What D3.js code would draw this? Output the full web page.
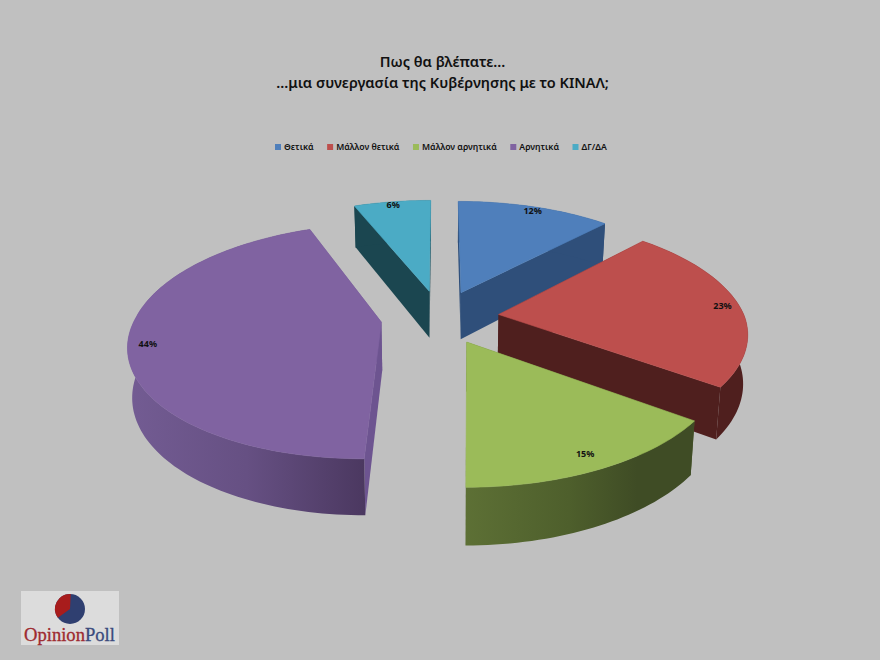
<!DOCTYPE html>
<html><head><meta charset="utf-8">
<script src="https://cdn.jsdelivr.net/npm/d3@7"></script>
<style>html,body{margin:0;padding:0;background:#c0c0c0}svg{display:block}text{font-family:"Noto Sans","Open Sans",sans-serif}</style>
</head><body><svg id="c" width="880" height="660"></svg>
<script>
const titleLines = ["Πως θα βλέπατε...", "...μια συνεργασία της Κυβέρνησης με το ΚΙΝΑΛ;"];
const categories = ["Θετικά", "Μάλλον θετικά", "Μάλλον αρνητικά", "Αρνητικά", "ΔΓ/ΔΑ"];
const values = [12, 23, 15, 44, 6];
const topColors = ["#4f7fbb", "#bd4f4d", "#9bbb59", "#8063a1", "#4babc5"];
const wallColors = ["#2f4f7a", "#4f1f1e", "#4a5a2a", "#5e4a7c", "#1b4650"];

const W = 880, H = 660;
const svg = d3.select("#c");
svg.append("rect").attr("width", W).attr("height", H).attr("fill", "#c0c0c0");
const defs = svg.append("defs");

// perspective projection of the pie's plane
const cx = 440, cy = 317, Rx = 246, Ry = 113, k = 0.16, shear = 0.02, explode = 0.24;
const D = 48, botX = 0.985, botY = 1.06;
const sx = (u, v) => u + shear * Math.min(v, 0);
const top3 = (u, v) => { const w = 1 + k * v; return [cx + Rx * sx(u, v) / w, cy - Ry * v / w]; };
const bot3 = (u, v) => { const w = 1 + k * v; return [cx + botX * Rx * sx(u, v) / w, cy + D - botY * Ry * v / w]; };

const arcs = d3.pie().sort(null)(values);
const line = d3.line();

const gradStops = {
  2: [["0%", "#5d7035"], ["45%", "#4e5f2c"], ["75%", "#3f4c25"], ["100%", "#3f4c25"]],
  3: [["0%", "#735c93"], ["50%", "#665083"], ["100%", "#4b3860"]]
};
Object.entries(gradStops).forEach(([i, stops]) => {
  const g = defs.append("linearGradient").attr("id", "wall" + i)
    .attr("x1", 0).attr("x2", 1).attr("y1", 0).attr("y2", 0);
  stops.forEach(s => g.append("stop").attr("offset", s[0]).attr("stop-color", s[1]));
});

const pieG = svg.append("g");
arcs.forEach((a, i) => {
  const mid = (a.startAngle + a.endAngle) / 2;
  const ou = explode * Math.sin(mid), ov = explode * Math.cos(mid);
  const P = (ang, r) => [ou + r * Math.sin(ang), ov + r * Math.cos(ang)];
  const n = Math.max(8, Math.round((a.endAngle - a.startAngle) * 40));
  const angles = d3.range(n + 1).map(j => a.startAngle + (a.endAngle - a.startAngle) * j / n);
  const rimTop = angles.map(t => top3(...P(t, 1)));
  const rimBot = angles.map(t => bot3(...P(t, 1)));
  const apexT = top3(ou, ov), apexB = bot3(ou, ov);
  const g = pieG.append("g");
  const wall = wallColors[i];
  // radial walls
  [[rimTop[0], rimBot[0]], [rimTop[n], rimBot[n]]].forEach(([t, b]) => {
    g.append("path").attr("d", line([apexT, t, b, apexB]) + "Z")
      .attr("fill", i === 3 ? "#6d5490" : wall);
  });
  // outer wall
  g.append("path").attr("d", line(rimTop.concat(rimBot.slice().reverse())) + "Z")
    .attr("fill", gradStops[i] ? `url(#wall${i})` : wall);
  // top face
  g.append("path").attr("d", line([apexT].concat(rimTop)) + "Z").attr("fill", topColors[i])
    .attr("stroke", topColors[i]).attr("stroke-width", 0.6);
});

// percent labels
arcs.forEach((a, i) => {
  const mid = (a.startAngle + a.endAngle) / 2;
  const ou = explode * Math.sin(mid), ov = explode * Math.cos(mid);
  const r = 0.93 + 0.04 * Math.cos(mid);
  const [x, y] = top3(ou + r * Math.sin(mid), ov + r * Math.cos(mid));
  svg.append("text").attr("x", x).attr("y", y + 1).attr("dy", "0.35em").attr("text-anchor", "middle")
    .attr("font-size", 9).attr("font-weight", 700).attr("fill", "#111").text(values[i] + "%");
});

// title
svg.append("g").selectAll("text").data(titleLines).join("text")
  .attr("x", 442.5).attr("y", (d, i) => 67 + i * 21).attr("text-anchor", "middle")
  .attr("font-size", 14.5).attr("font-weight", 600).attr("fill", "#111").text(d => d);

// legend
let legendCursor = 275;
categories.forEach((d, i) => {
  const g = svg.append("g").attr("transform", `translate(${legendCursor},147)`);
  g.append("rect").attr("x", 0).attr("y", -3).attr("width", 6).attr("height", 6).attr("fill", topColors[i]);
  const t = g.append("text").attr("x", 9).attr("dy", "0.35em").attr("font-size", 8.7).attr("font-weight", 600)
    .attr("fill", "#111").text(d);
  legendCursor += 9 + t.node().getComputedTextLength() + 13.5;
});

// logo
const logo = svg.append("g");
logo.append("rect").attr("x", 21).attr("y", 591).attr("width", 98).attr("height", 54).attr("fill", "#dcdcdc");
logo.append("circle").attr("cx", 70).attr("cy", 609).attr("r", 15).attr("fill", "#2f3f70");
logo.append("path").attr("transform", "translate(70,609)")
  .attr("d", d3.arc().innerRadius(0).outerRadius(15).startAngle(-2.2).endAngle(0.05)())
  .attr("fill", "#a81c1c");
const lt = logo.append("text").attr("x", 24).attr("y", 641).attr("font-size", 18.6)
  .style("font-family", "'Liberation Serif',serif").attr("stroke-width", 0.3);
lt.append("tspan").attr("fill", "#9e2a2f").attr("stroke", "#9e2a2f").text("Opinion");
lt.append("tspan").attr("fill", "#3a4a7c").attr("stroke", "#3a4a7c").text("Poll");
</script></body></html>
